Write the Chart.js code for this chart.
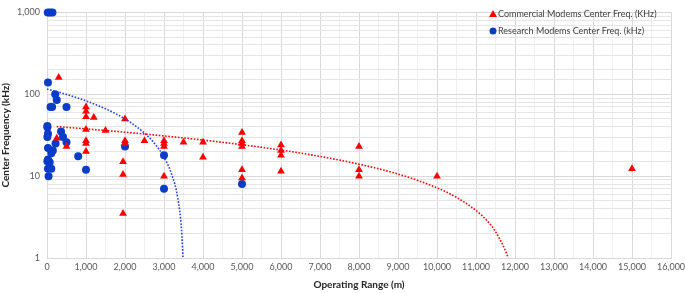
<!DOCTYPE html>
<html>
<head>
<meta charset="utf-8">
<script src="https://cdn.jsdelivr.net/npm/chart.js@4.4.1/dist/chart.umd.min.js"></script>
<style>
  html, body { margin: 0; padding: 0; background: #fff; }
  #wrap { width: 685px; height: 293px; }
</style>
</head>
<body>
<div id="wrap"><canvas id="chart"></canvas></div>
<script>
// Commercial modems (red triangles)
const commercialRange = [300, 1000, 1000, 1000, 1200, 1000, 250, 1000, 1000, 500, 1000, 1500,
  2000, 2000, 2000, 1950, 1950, 1950, 2500, 3000, 3000, 3000, 3000, 3500, 4000, 4000,
  5000, 5000, 5000, 5000, 5000, 5000, 6000, 6000, 6000, 6000, 8000, 8000, 8000, 10000, 15000];
const commercialFreq = [160, 70, 62, 53, 52, 37, 29, 27, 25, 23, 20, 36,
  50, 27, 25, 15, 10.5, 3.5, 27, 27, 25, 23, 10, 26, 26, 17,
  34, 27, 25, 23, 12, 9.5, 24, 20.5, 18, 11.5, 23, 12, 10, 10, 12.3];

// Research modems (blue circles)
const researchRange = [20, 80, 140, 25, 210, 250, 90, 130, 500, 10, 10, 360, 25, 10, 410, 500,
  220, 25, 150, 110, 800, 25, 10, 70, 25, 110, 1000, 40, 2000, 3000, 3000, 5000];
const researchFreq = [1000, 1000, 1000, 139, 100, 85, 70, 70, 70, 41, 39.5, 35, 33, 30, 30, 26,
  25, 22, 20.5, 19, 17.5, 16, 15.2, 14.8, 12.3, 12.3, 12, 10, 23, 18, 7, 8];

// Trend lines
const commercialTrendRange = [250, 1000, 2000, 3000, 4000, 5000, 6000, 7000, 8000, 9000, 10000,
  10500, 11000, 11300, 11500, 11700, 11830];
const commercialTrendFreq = [40.3, 37.8, 34.4, 31.0, 27.6, 24.2, 20.8, 17.4, 14.0, 10.6, 7.2,
  5.5, 3.8, 2.8, 2.1, 1.4, 1.0];
const researchTrendRange = [0, 500, 1000, 1500, 2000, 2500, 2750, 3000, 3200, 3350, 3450, 3487];
const researchTrendFreq = [116, 99.5, 83, 66.5, 50, 33.5, 25.3, 17, 10.4, 5.5, 2.2, 1.0];

const legendLabels = ['Commercial Modems Center Freq. (KHz)', 'Research Modems Center Freq. (kHz)'];

const RED = '#ff0000';
const BLUE = '#0a3cc8';
const FONT = "Lato, 'Open Sans', sans-serif";

const toPoints = (xs, ys) => xs.map((x, i) => ({ x: x, y: ys[i] }));

// legend drawn inside the plot, top right
const innerLegend = {
  id: 'innerLegend',
  afterDraw(chart) {
    const ctx = chart.ctx;
    const rows = [
      { text: legendLabels[0], style: 'triangle', color: RED, y: 14 },
      { text: legendLabels[1], style: 'circle', color: BLUE, y: 31 }
    ];
    ctx.save();
    ctx.font = '9px ' + FONT;
    ctx.textBaseline = 'middle';
    rows.forEach(r => {
      const mx = 493;
      ctx.fillStyle = r.color;
      ctx.beginPath();
      if (r.style === 'triangle') {
        ctx.moveTo(mx, r.y - 4);
        ctx.lineTo(mx + 4, r.y + 3);
        ctx.lineTo(mx - 4, r.y + 3);
        ctx.closePath();
      } else {
        ctx.arc(mx, r.y, 3.5, 0, Math.PI * 2);
      }
      ctx.fill();
      ctx.fillStyle = '#404040';
      ctx.fillText(r.text, mx + 5, r.y);
    });
    ctx.restore();
  }
};

const ctx = document.getElementById('chart').getContext('2d');

const cfg = {
  type: 'scatter',
  data: {
    datasets: [
      {
        label: legendLabels[0],
        data: toPoints(commercialRange, commercialFreq),
        pointStyle: 'triangle',
        pointRadius: 4.5,
        backgroundColor: RED,
        borderColor: RED,
        borderWidth: 0,
        clip: false,
        order: 1
      },
      {
        label: legendLabels[1],
        data: toPoints(researchRange, researchFreq),
        pointStyle: 'circle',
        pointRadius: 4,
        backgroundColor: BLUE,
        borderColor: BLUE,
        borderWidth: 0,
        clip: false,
        order: 2
      },
      {
        label: 'trend commercial',
        data: toPoints(commercialTrendRange, commercialTrendFreq),
        showLine: true,
        pointRadius: 0,
        borderColor: RED,
        borderWidth: 1.6,
        borderDash: [1.6, 1.6],
        cubicInterpolationMode: 'monotone',
        order: 0
      },
      {
        label: 'trend research',
        data: toPoints(researchTrendRange, researchTrendFreq),
        showLine: true,
        pointRadius: 0,
        borderColor: '#1f3fe8',
        borderWidth: 1.6,
        borderDash: [1.6, 1.6],
        cubicInterpolationMode: 'monotone',
        order: 0
      }
    ]
  },
  options: {
    responsive: true,
    maintainAspectRatio: false,
    animation: false,
    layout: { padding: { top: 5, right: 14, bottom: 2, left: 0 } },
    plugins: {
      legend: { display: false },
      tooltip: { enabled: false }
    },
    scales: {
      x: {
        type: 'linear',
        min: 0,
        max: 16000,
        afterFit: s => { s.height = 33; s.paddingRight = 0; s.paddingLeft = 0; },
        title: {
          display: true,
          text: 'Operating Range (m)',
          color: '#262626',
          padding: { top: 2, bottom: 0 },
          font: { family: FONT, size: 10, weight: 'bold' }
        },
        ticks: {
          stepSize: 500,
          autoSkip: false,
          maxRotation: 0,
          padding: 4,
          color: '#595959',
          font: { family: FONT, size: 9 },
          callback: v => (v % 1000 === 0 ? v.toLocaleString('en-US') : '')
        },
        grid: {
          drawTicks: false,
          color: c => (c.tick && c.tick.value % 1000 === 0 ? '#d9d9d9' : '#f0f0f0')
        },
        border: { color: '#d9d9d9' }
      },
      y: {
        type: 'logarithmic',
        min: 1,
        max: 1000,
        afterFit: s => { s.width = 47; },
        title: {
          display: true,
          text: 'Center Frequency (kHz)',
          color: '#262626',
          padding: { top: 0, bottom: 2 },
          font: { family: FONT, size: 10, weight: 'bold' }
        },
        ticks: {
          autoSkip: false,
          padding: 7,
          color: '#595959',
          font: { family: FONT, size: 9 },
          callback: v => ([1, 10, 100, 1000].includes(v) ? v.toLocaleString('en-US') : '')
        },
        grid: {
          drawTicks: false,
          color: c => ([1, 10, 100, 1000].includes(c.tick && c.tick.value) ? '#d9d9d9' : '#e6e6e6')
        },
        border: { color: '#d9d9d9' }
      }
    }
  },
  plugins: [innerLegend]
};

const chart = new Chart(ctx, cfg);
</script>
</body>
</html>
